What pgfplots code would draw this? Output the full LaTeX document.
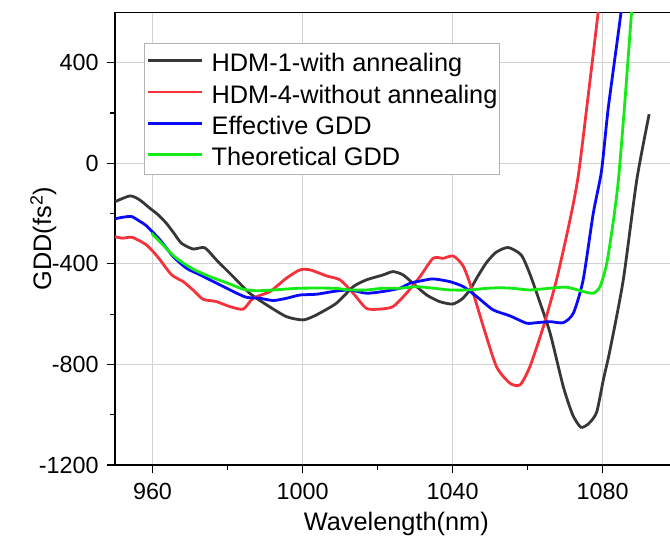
\documentclass[border=0pt]{standalone}
\usepackage{pgfplots}
\pgfplotsset{compat=1.18}
\usepackage{fontspec}
\setmainfont{Liberation Sans}
\definecolor{cblack}{RGB}{55,55,55}
\definecolor{cred}{RGB}{245,50,60}
\definecolor{cblue}{RGB}{10,10,250}
\definecolor{cgreen}{RGB}{20,235,20}
\begin{document}
\begin{tikzpicture}
\useasboundingbox (-86.25pt,-54pt) rectangle (416.25pt,348.75pt);
\clip (-86.25pt,-54pt) rectangle (416.25pt,348.75pt);
\begin{axis}[
  scale only axis, width=422pt, height=339.5pt,
  xmin=950, xmax=1100, ymin=-1200, ymax=600,
  xtick={960,1000,1040,1080}, ytick={-1200,-800,-400,0,400},
  minor x tick num=1, minor y tick num=1,
  tick align=outside, xtick pos=left, ytick pos=left,
  major tick length=6.25pt, minor tick length=3.5pt,
  tick style={black, line width=0.9pt},
  axis line style={black, line width=1.1pt},
  grid=major, major grid style={gray!35, line width=0.6pt},
  ticklabel style={font=\fontsize{17.5}{20}\selectfont},
  xticklabel style={yshift=-4pt},
  yticklabel style={xshift=-2.5pt},
  /pgf/number format/assume math mode=true,
  /pgf/number format/1000 sep={},
  xlabel={Wavelength(nm)}, ylabel={GDD(fs\textsuperscript{2})},
  label style={font=\fontsize{19}{22}\selectfont},
  xlabel style={at={(axis description cs:0.5,-0.1451)}, anchor=base},
  ylabel style={at={(axis description cs:-0.1137,0.5)}, anchor=base},
  legend style={at={(axis description cs:0.0521,0.9329)}, anchor=north west,
    draw=gray!60, line width=0.8pt, font=\fontsize{19}{22}\selectfont,
    inner xsep=1.5pt, inner ysep=3.5pt, row sep=2.5pt, column sep=6pt,
    nodes={inner sep=0pt, text height=18pt, text depth=3pt}},
  legend cell align=left,
  legend image code/.code={\draw[#1] (0pt,1pt) -- (40.5pt,1pt);},
  every axis plot/.append style={no markers, smooth, tension=0.4},
]
\addplot[cblack, line width=2.1pt] coordinates {
(950,-153) (954,-130) (956.5,-145) (959.3,-179) (961.5,-205) (963.7,-239) (965.8,-280) (967.7,-318) (970.8,-341) (973.9,-336) (977,-384) (981.5,-451) (985.9,-517) (990.4,-563) (995.7,-610) (1000.2,-623) (1003.7,-603) (1009,-557) (1013.5,-491) (1017,-464) (1021.5,-444) (1024.1,-431) (1026.8,-444) (1030,-485) (1033.1,-524) (1036.5,-550) (1040,-560) (1042.5,-540) (1044.6,-504) (1046.7,-450) (1048.9,-398) (1051.5,-355) (1054.8,-335) (1058.3,-365) (1060.6,-440) (1063.2,-550) (1066,-676) (1069.5,-888) (1072,-1000) (1074.2,-1050) (1076.3,-1035) (1078.4,-990) (1080.2,-860) (1082,-740) (1085.5,-464) (1089.1,-66) (1092.4,195)
};
\addlegendentry{HDM-1-with annealing}
\addplot[cred, line width=2.1pt] coordinates {
(950,-292) (952,-298) (954.4,-294) (956.5,-308) (958.4,-325) (960.2,-352) (962,-384) (965.1,-444) (968.2,-471) (970.8,-504) (973.5,-541) (977,-550) (980.6,-570) (984.2,-580) (986.8,-537) (991.3,-510) (995.7,-457) (999.3,-424) (1002,-424) (1006.4,-448) (1010,-464) (1013.5,-517) (1017,-577) (1020.6,-580) (1024.1,-570) (1027.7,-517) (1031.3,-451) (1034.8,-378) (1037.5,-378) (1040.2,-369) (1042.9,-411) (1045.5,-517) (1048.2,-650) (1051.7,-809) (1055.3,-875) (1058,-881) (1060.6,-809) (1064.2,-650) (1067.7,-464) (1071.3,-225) (1073.5,-50) (1076,250) (1078.8,600) (1079.5,700)
};
\addlegendentry{HDM-4-without annealing}
\addplot[cblue, line width=2.1pt] coordinates {
(950,-221) (952,-215) (954.4,-212) (956.5,-230) (958.4,-249) (962,-305) (965.5,-371) (969.1,-418) (972.7,-444) (977.1,-477) (981.5,-510) (985,-533) (988.6,-537) (992.2,-546) (995.7,-537) (999.3,-524) (1003.7,-521) (1008.2,-510) (1012.6,-504) (1017,-517) (1021.5,-510) (1025.9,-497) (1028.7,-477) (1031.5,-468) (1034.8,-460) (1039.3,-471) (1042.9,-491) (1046.4,-530) (1050.8,-583) (1055.3,-607) (1059.7,-636) (1062.4,-634) (1066,-630) (1069.5,-634) (1072.2,-596) (1074.8,-464) (1077.5,-199) (1079.7,-30) (1081.5,220) (1084.9,600) (1085.5,700)
};
\addlegendentry{Effective GDD}
\addplot[cgreen, line width=2.1pt] coordinates {
(959.7,-278) (962.8,-325) (966.4,-378) (970.8,-421) (975.3,-451) (979.7,-475) (984.2,-501) (987.8,-507) (992.2,-504) (999.3,-497) (1008.2,-497) (1012.7,-504) (1017,-504) (1021.5,-497) (1025.9,-497) (1030.4,-491) (1035,-497) (1039.3,-504) (1044.6,-504) (1048.5,-498) (1052.6,-495) (1056.5,-498) (1060.6,-504) (1066,-497) (1070.4,-493) (1074.8,-510) (1077.5,-517) (1079.3,-491) (1081.1,-398) (1082.9,-225) (1084.2,-66) (1085.8,220) (1087.7,599) (1088.3,700)
};
\addlegendentry{Theoretical GDD}
\end{axis}
\end{tikzpicture}
\end{document}
